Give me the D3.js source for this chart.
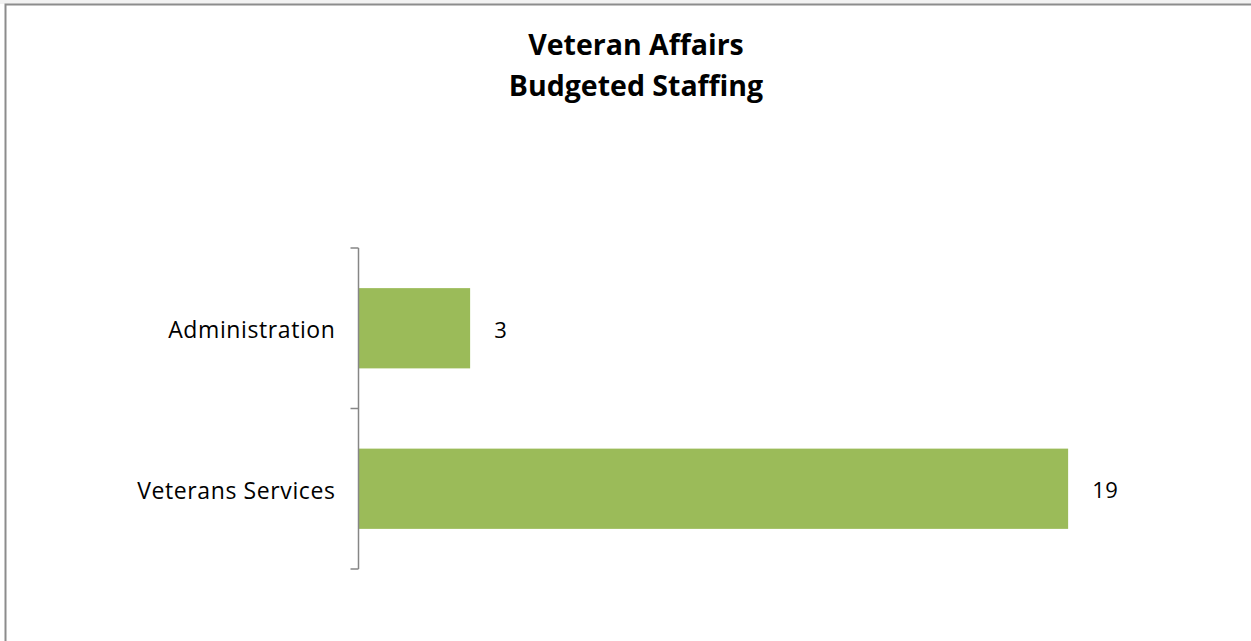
<!DOCTYPE html>
<html>
<head>
<meta charset="utf-8">
<script src="https://cdn.jsdelivr.net/npm/d3@7"></script>
<style>
  body { margin: 0; background: #fff; }
  svg { display: block; }
</style>
</head>
<body>
<svg id="chart" width="1251" height="641"></svg>
<script>
var categories = ["Administration", "Veterans Services"];
var staffing = [3, 19];
var titleLines = ["Veteran Affairs", "Budgeted Staffing"];

var svg = d3.select("#chart");
var width = 1251, height = 641;

// faint strip above the frame, then the chart frame
svg.append("rect").attr("x", 0).attr("y", 0).attr("width", width).attr("height", 4)
  .attr("fill", "#f2f2f2");
svg.append("path")
  .attr("d", "M5.5," + height + "V4.5H" + width)
  .attr("fill", "none")
  .attr("stroke", "#8c8c8c")
  .attr("stroke-width", 2);

svg.append("text")
  .attr("x", 636)
  .attr("text-anchor", "middle")
  .attr("font-family", "'Open Sans', sans-serif")
  .attr("font-weight", "bold")
  .attr("font-size", 28.5)
  .attr("fill", "#000")
  .selectAll("tspan")
  .data(titleLines)
  .enter()
  .append("tspan")
  .attr("x", 636)
  .attr("y", function (d, i) { return 55 + i * 41; })
  .text(function (d) { return d; });

var x = d3.scaleLinear().domain([0, 20]).range([358, 1105.5]);
var y = d3.scaleBand().domain(categories).range([248, 569]).paddingInner(0.5).paddingOuter(0.25);

var data = categories.map(function (c, i) { return { name: c, value: staffing[i] }; });

svg.selectAll(".bar")
  .data(data)
  .enter()
  .append("rect")
  .attr("class", "bar")
  .attr("x", x(0))
  .attr("y", function (d) { return y(d.name); })
  .attr("width", function (d) { return x(d.value) - x(0); })
  .attr("height", y.bandwidth())
  .attr("fill", "#9bbb59");

svg.selectAll(".val")
  .data(data)
  .enter()
  .append("text")
  .attr("class", "val")
  .attr("x", function (d) { return x(d.value) + 24; })
  .attr("y", function (d) { return y(d.name) + y.bandwidth() / 2 + 2; })
  .attr("dy", "0.35em")
  .attr("font-family", "'Open Sans', sans-serif")
  .attr("font-size", 22)
  .attr("letter-spacing", 0.5)
  .attr("fill", "#000")
  .text(function (d) { return d.value; });

// category axis: ticks sit on band boundaries, like Excel
var bounds = [248, 408.5, 569];
var axisG = svg.append("g").attr("transform", "translate(358.5,0)");
axisG.append("line")
  .attr("y1", bounds[0]).attr("y2", bounds[2])
  .attr("stroke", "#868686").attr("stroke-width", 1.5);
axisG.selectAll(".tick")
  .data(bounds)
  .enter()
  .append("line")
  .attr("x1", -8).attr("x2", 0)
  .attr("y1", function (d) { return d; })
  .attr("y2", function (d) { return d; })
  .attr("stroke", "#868686").attr("stroke-width", 1.5);

axisG.selectAll(".cat")
  .data(categories)
  .enter()
  .append("text")
  .attr("class", "cat")
  .attr("x", -23)
  .attr("y", function (d) { return y(d) + y.bandwidth() / 2 + 2; })
  .attr("dy", "0.35em")
  .attr("text-anchor", "end")
  .attr("font-family", "'Open Sans', sans-serif")
  .attr("font-size", 23)
  .attr("letter-spacing", 0.6)
  .attr("fill", "#000")
  .text(function (d) { return d; });
</script>
</body>
</html>
